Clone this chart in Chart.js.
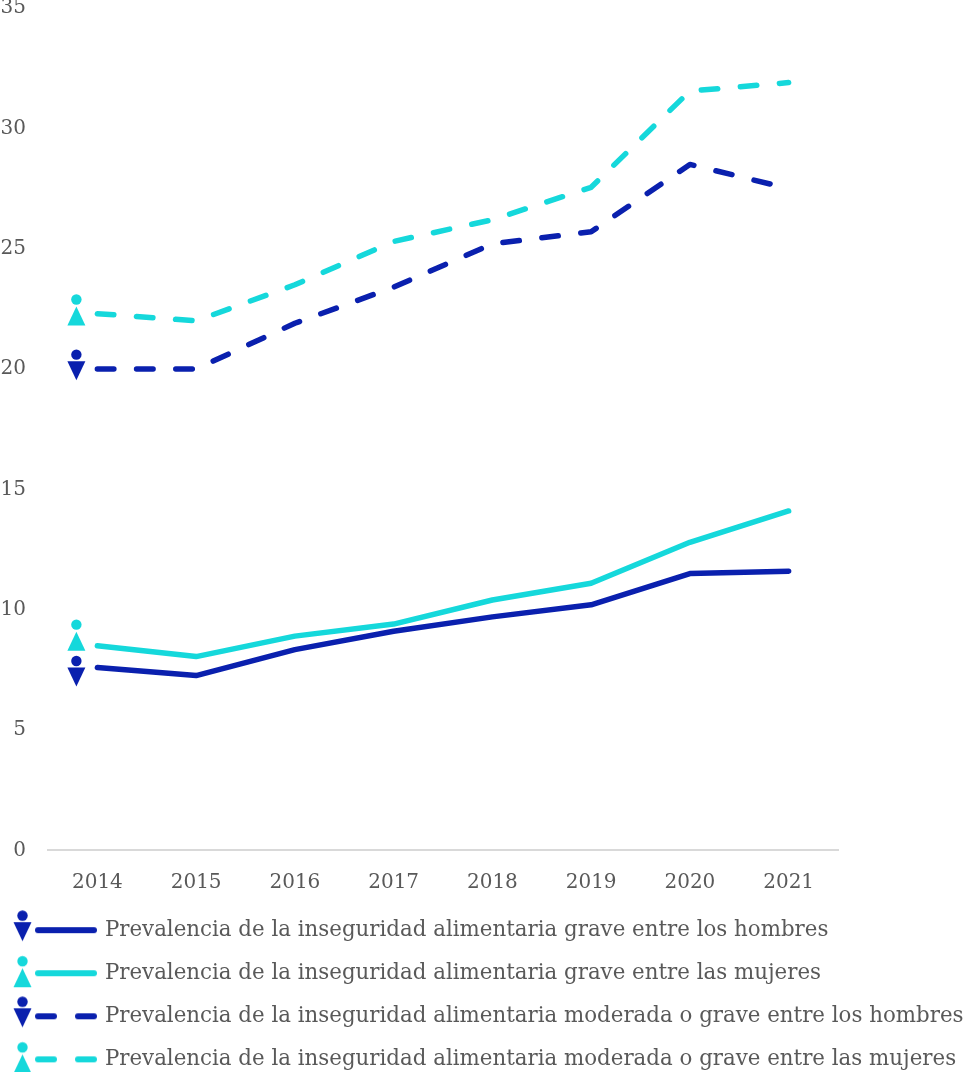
<!DOCTYPE html>
<html lang="es">
<head>
<meta charset="utf-8">
<title>Prevalencia de la inseguridad alimentaria</title>
<script src="https://cdn.jsdelivr.net/npm/chart.js@4/dist/chart.umd.min.js"></script>
<style>
  html, body { margin: 0; padding: 0; background: #fff; }
  #wrap { width: 963px; height: 1072px; }
</style>
</head>
<body>
<div id="wrap"><canvas id="chart"></canvas></div>
<script>
const years = ['2014', '2015', '2016', '2017', '2018', '2019', '2020', '2021'];
const yTicks = [0, 5, 10, 15, 20, 25, 30, 35];

const graveHombres = [7.6, 7.26, 8.34, 9.1, 9.7, 10.2, 11.5, 11.6];
const graveMujeres = [8.5, 8.05, 8.9, 9.4, 10.4, 11.1, 12.8, 14.1];
const moderadaHombres = [20, 20, 21.9, 23.4, 25.2, 25.7, 28.5, 27.5];
const moderadaMujeres = [22.3, 22, 23.5, 25.3, 26.2, 27.55, 31.55, 31.9];

// height on the y axis where each little person icon sits, next to 2014
const iconValues = [7.2, 8.69, 19.93, 22.2];

const names = [
  'Prevalencia de la inseguridad alimentaria grave entre los hombres',
  'Prevalencia de la inseguridad alimentaria grave entre las mujeres',
  'Prevalencia de la inseguridad alimentaria moderada o grave entre los hombres',
  'Prevalencia de la inseguridad alimentaria moderada o grave entre las mujeres'
];

const BLUE = '#0a20ae';
const CYAN = '#15d8db';
const GREY = '#595959';
const FONT = 'DejaVu Serif';

function drawPerson(ctx, x, y, color, isMan) {
  // y is the vertical middle of the triangle
  ctx.fillStyle = color;
  ctx.beginPath();
  if (isMan) {
    ctx.moveTo(x - 9, y - 9.5);
    ctx.lineTo(x + 9, y - 9.5);
    ctx.lineTo(x, y + 9.5);
  } else {
    ctx.moveTo(x, y - 9.5);
    ctx.lineTo(x + 9, y + 9.5);
    ctx.lineTo(x - 9, y + 9.5);
  }
  ctx.closePath();
  ctx.fill();
  ctx.beginPath();
  ctx.arc(x, isMan ? y - 16 : y - 16.5, 5.2, 0, Math.PI * 2);
  ctx.fill();
}

// legend swatch: person + line sample, line is on the vertical middle
function legendIcon(color, isMan, dashed) {
  const c = document.createElement('canvas');
  c.width = 100;
  c.height = 64;
  const ctx = c.getContext('2d');
  drawPerson(ctx, 14.5, isMan ? 33.5 : 36.5, color, isMan);
  ctx.strokeStyle = color;
  ctx.lineWidth = 6;
  ctx.lineCap = 'round';
  ctx.beginPath();
  if (dashed) {
    ctx.moveTo(30, 32); ctx.lineTo(46, 32);
    ctx.moveTo(70, 32); ctx.lineTo(86, 32);
  } else {
    ctx.moveTo(30, 32); ctx.lineTo(86, 32);
  }
  ctx.stroke();
  return c;
}

const personIcons = {
  id: 'personIcons',
  afterDatasetsDraw(chart) {
    const x = chart.scales.x.getPixelForValue(0) - 21;
    chart.data.datasets.forEach((ds, i) => {
      drawPerson(chart.ctx, x, chart.scales.y.getPixelForValue(iconValues[i]), ds.borderColor, i % 2 === 0);
    });
  }
};

function series(i, data, color, dashed) {
  return {
    label: names[i],
    data: data,
    borderColor: color,
    backgroundColor: color,
    borderWidth: 5.5,
    borderCapStyle: 'round',
    borderJoinStyle: 'round',
    borderDash: dashed ? [16.5, 22.7] : [],
    tension: 0,
    fill: false,
    pointRadius: 0,
    pointHoverRadius: 0,
    pointStyle: legendIcon(color, i % 2 === 0, dashed)
  };
}

new Chart(document.getElementById('chart'), {
  type: 'line',
  data: {
    labels: years,
    datasets: [
      series(0, graveHombres, BLUE, false),
      series(1, graveMujeres, CYAN, false),
      series(2, moderadaHombres, BLUE, true),
      series(3, moderadaMujeres, CYAN, true)
    ]
  },
  plugins: [personIcons],
  options: {
    responsive: true,
    maintainAspectRatio: false,
    animation: false,
    layout: { padding: { top: 8, right: 0, bottom: -8, left: 0 } },
    plugins: {
      tooltip: { enabled: false },
      legend: {
        position: 'bottom',
        align: 'start',
        labels: {
          usePointStyle: true,
          pointStyleWidth: 72.5,
          padding: 21.7,
          color: GREY,
          font: { family: FONT, size: 21.35 }
        }
      }
    },
    scales: {
      x: {
        offset: true,
        grid: { display: false },
        border: { color: '#d9d9d9', width: 2 },
        ticks: { color: GREY, font: { family: FONT, size: 20 }, padding: 12.5, maxRotation: 0 },
        afterFit(scale) { scale.height = 47.5; }
      },
      y: {
        min: 0,
        max: 35,
        grid: { display: false, drawTicks: false },
        border: { display: false },
        afterBuildTicks(scale) { scale.ticks = yTicks.map(v => ({ value: v })); },
        ticks: { color: GREY, font: { family: FONT, size: 20 }, padding: 22 },
        afterFit(scale) { scale.width = 48; scale.paddingTop = 0; scale.paddingBottom = 0; }
      },
      // empty axis, only keeps the plot clear of the right edge
      spacer: {
        axis: 'y',
        position: 'right',
        grid: { display: false },
        border: { display: false },
        ticks: { display: false },
        afterFit(scale) { scale.width = 125; }
      }
    }
  }
});
</script>
</body>
</html>
